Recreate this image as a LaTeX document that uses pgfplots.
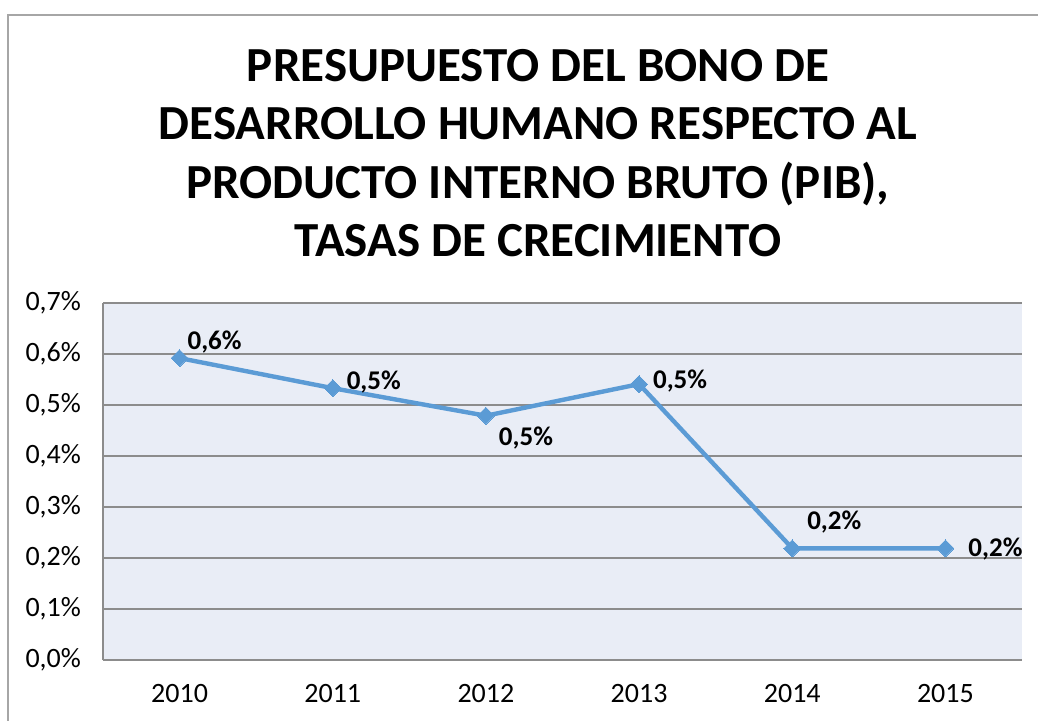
\documentclass[border=0pt]{standalone}
\usepackage{fontspec}
\setmainfont{Carlito}
\usepackage{pgfplots}
\usepackage{pgfplotstable}
\pgfplotsset{compat=1.18}
\definecolor{plotbg}{HTML}{E9EDF6}
\definecolor{serie}{HTML}{5B9BD5}
\definecolor{gridc}{HTML}{8C8C8C}
\definecolor{frame}{HTML}{A6A6A6}

% x = año (0 = 2010), y en %, dx/dy = desplazamiento de la etiqueta (pt)
\pgfplotstableread{
x y dx dy
0 0.592 4 8
1 0.533 7 3
2 0.479 6.5 -11
3 0.541 7 1.5
4 0.219 7.5 13
5 0.219 11.5 -0.5
}\pib

\begin{document}
\begin{tikzpicture}
\path[use as bounding box] (0,0) rectangle (519pt,360pt);
\draw[frame, line width=0.7pt] (4pt,-2pt) -- (4pt,352.5pt) -- (522pt,352.5pt);

\node[font=\bfseries\fontsize{24.5}{29.3}\selectfont, align=center, anchor=center]
  at (269pt,283.5pt) {PRESUPUESTO DEL BONO DE\\DESARROLLO HUMANO RESPECTO AL\\PRODUCTO INTERNO BRUTO (PIB),\\TASAS DE CRECIMIENTO};

\begin{axis}[
  at={(51.5pt,30pt)}, anchor=south west,
  scale only axis, width=459.5pt, height=178.5pt,
  xmin=-0.5, xmax=5.5, ymin=0, ymax=0.7,
  axis background/.style={fill=plotbg},
  axis x line*=bottom, axis y line*=left,
  axis line style={gridc, line width=0.8pt, -},
  xtick={0,1,2,3,4,5},
  xticklabels={2010,2011,2012,2013,2014,2015},
  ytick={0,0.1,...,0.7},
  major tick length=0pt,
  ymajorgrids, grid style={gridc, line width=0.6pt},
  /pgf/number format/assume math mode=true,
  yticklabel={\pgfmathprintnumber[fixed,fixed zerofill,precision=1,use comma]{\tick}\%},
  ticklabel style={font=\fontsize{14}{16}\selectfont},
  yticklabel style={xshift=-7.5pt},
  xticklabel style={yshift=-8.5pt},
  clip=false,
]
\addplot[serie, line width=2.2pt, mark=square*, mark size=3pt,
  mark options={fill=serie, draw=serie, line width=0pt, rotate=45},
  visualization depends on={\thisrow{dx} \as \dx},
  visualization depends on={\thisrow{dy} \as \dy},
  nodes near coords={\pgfmathprintnumber[fixed,precision=1,use comma]{\pgfplotspointmeta}\%},
  every node near coord/.append style={anchor=west, inner sep=0pt, text=black,
    font=\bfseries\fontsize{13.5}{15}\selectfont, xshift=\dx pt, yshift=\dy pt},
] table[x=x, y=y] {\pib};
\end{axis}
\end{tikzpicture}
\end{document}
